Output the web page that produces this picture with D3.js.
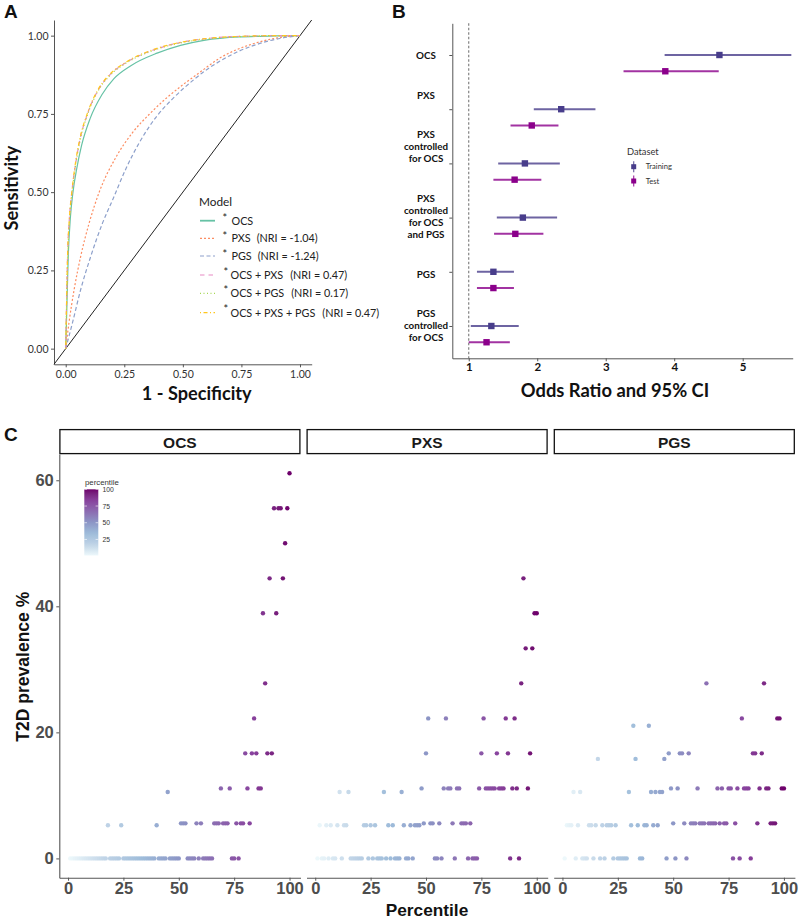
<!DOCTYPE html>
<html><head><meta charset="utf-8">
<script src="https://cdn.jsdelivr.net/npm/d3@7"></script>
<style>body{margin:0;background:#fff}svg{display:block}</style>
</head><body>
<svg id="chart" width="800" height="919"></svg>
<script>
// ================= DATA =================
// Panel A: ROC curves (1 - specificity, sensitivity)
const rocModels = ["OCS", "PXS", "PGS", "OCS + PXS", "OCS + PGS", "OCS + PXS + PGS"];
const rocNri = ["", "(NRI = -1.04)", "(NRI = -1.24)", "(NRI = 0.47)", "(NRI = 0.17)", "(NRI = 0.47)"];
const rocOCS = [[0,0],[0.003,0.08],[0.011,0.3],[0.02,0.42],[0.031,0.5],[0.047,0.575],[0.068,0.65],[0.104,0.735],[0.155,0.812],[0.205,0.862],[0.278,0.904],[0.39,0.944],[0.49,0.969],[0.59,0.985],[0.74,0.996],[0.9,0.999],[1,1]];
const rocPXS = [[0,0],[0.014,0.083],[0.036,0.189],[0.064,0.295],[0.1,0.401],[0.143,0.5],[0.214,0.611],[0.286,0.691],[0.357,0.749],[0.429,0.8],[0.5,0.843],[0.571,0.882],[0.614,0.906],[0.657,0.928],[0.729,0.955],[0.8,0.974],[0.871,0.988],[0.943,0.997],[1,1]];
const rocPGS = [[0,0],[0.029,0.083],[0.064,0.189],[0.107,0.295],[0.157,0.401],[0.2,0.475],[0.257,0.575],[0.314,0.658],[0.386,0.74],[0.457,0.799],[0.543,0.857],[0.586,0.883],[0.657,0.918],[0.729,0.947],[0.8,0.968],[0.871,0.984],[0.943,0.995],[1,1]];
const rocOCSPXS = [[0,0],[0.002,0.08],[0.008,0.3],[0.016,0.42],[0.026,0.5],[0.04,0.58],[0.06,0.665],[0.093,0.75],[0.14,0.828],[0.19,0.876],[0.26,0.915],[0.37,0.953],[0.47,0.975],[0.57,0.988],[0.72,0.997],[0.9,1],[1,1]];
const rocOCSPGS = [[0,0],[0.002,0.08],[0.009,0.3],[0.017,0.42],[0.027,0.5],[0.041,0.58],[0.061,0.664],[0.094,0.749],[0.141,0.827],[0.192,0.875],[0.262,0.914],[0.372,0.952],[0.472,0.974],[0.575,0.987],[0.725,0.996],[0.9,1],[1,1]];
const rocAll = [[0,0],[0.002,0.08],[0.008,0.3],[0.016,0.42],[0.026,0.5],[0.039,0.58],[0.059,0.666],[0.092,0.751],[0.139,0.829],[0.189,0.877],[0.259,0.916],[0.368,0.954],[0.468,0.975],[0.568,0.988],[0.72,0.997],[0.9,1],[1,1]];
const rocTicks = [0, 0.25, 0.5, 0.75, 1];

// Panel B: odds ratios and 95% CI
const orCategories = ["OCS", "PXS", "PXS controlled for OCS", "PXS controlled for OCS and PGS", "PGS", "PGS controlled for OCS"];
const orDatasets = ["Training", "Test"];
const trainOR = [4.66, 2.35, 1.82, 1.79, 1.36, 1.33];
const trainLo = [3.86, 1.95, 1.43, 1.41, 1.12, 1.03];
const trainHi = [5.71, 2.85, 2.33, 2.29, 1.66, 1.73];
const testOR  = [3.87, 1.92, 1.67, 1.68, 1.36, 1.26];
const testLo  = [3.26, 1.61, 1.36, 1.37, 1.12, 1.00];
const testHi  = [4.65, 2.31, 2.06, 2.09, 1.66, 1.60];
const orTicks = [1, 2, 3, 4, 5];

// Panel C: T2D prevalence (%) by percentile; groups of [prevalence, percentiles]
const prevFacets = ["OCS", "PXS", "PGS"];
const prevOCS = [
  [0, [1,2,3,4,5,6,7,8,9,10,11,12,13,14,15,16,17,19,20,21,22,23,25,26,27,28,29,30,31,32,33,34,35,36,37,38,39,41,42,43,44,46,47,48,49,50,54,55,56,57,59,61,62,63,64,65,74,75,77]],
  [5.26, [18,24,40]],
  [5.56, [51,52,53,58,60,66,67,68,70,71,72,76,78,79,82]],
  [10.53, [45]],
  [11.11, [69,73,81,86,87]],
  [16.67, [80,83,85,90,92]],
  [22.22, [84]],
  [27.78, [89]],
  [38.89, [88,94]],
  [44.44, [91,97]],
  [50.00, [98]],
  [55.56, [93,95,96,99]],
  [61.11, [100]]
];
const prevPXS = [
  [0, [1,3,4,6,8,9,12,16,17,18,19,20,21,24,26,28,29,30,32,34,36,37,38,41,42,44,54,55,57,63,69,71,72,73,88,92]],
  [5.26, [2,5,7,10,13,14,22,23,25,27,33,35,40,43,45,46,47]],
  [5.56, [49,52,53,56,62,66,67,68,70]],
  [10.53, [11,15,31,39]],
  [11.11, [48,58,60,61,64,65,74,77,78,79,80,81,83,84,85,89,91,96]],
  [16.67, [50,75,82,87,97]],
  [22.22, [51,59,76,86,90]],
  [27.78, [93]],
  [33.33, [95,98]],
  [38.89, [99,100]],
  [44.44, [94]]
];
const prevPGS = [
  [0, [1,6,9,10,11,14,17,19,23,25,26,27,28,29,35,36,47,51,56,77,80,85]],
  [5.26, [2,3,4,7,12,13,15,18,20,21,22,24,31,34,37,38,41,43]],
  [5.56, [50,55,58,59,60,62,63,64,66,67,68,69,71,73,74,78,88,94,95,96]],
  [10.53, [5,8,30,40,42,44,45]],
  [11.11, [49,52,61,70,72,75,76,79,82,83,84,89,92,93,99,100]],
  [15.79, [16,33,46]],
  [16.67, [48,53,54,57,86,87,90]],
  [21.05, [32,39]],
  [22.22, [81,97,98]],
  [27.78, [65,91]]
];
const prevYTicks = [0, 20, 40, 60];
const prevXTicks = [0, 25, 50, 75, 100];
const legendTicks = [25, 50, 75, 100];
const buPu = ["#edf8fb","#bfd3e6","#9ebcda","#8c96c6","#8c6bb1","#88419d","#6e016b"];

// ================= DRAW =================
const svg = d3.select("#chart");
const FA = "Lato, 'Open Sans', sans-serif";
const FC = "'Liberation Sans', Arial, sans-serif";

function fit(sel, w) {
  const n = sel.node(); const fs = parseFloat(sel.attr("font-size"));
  const cw = n.getComputedTextLength();
  if (cw > 0) sel.attr("font-size", fs * w / cw);
}

// panel letters
[["A",4,18],["B",392,18],["C",4,441]].forEach(([t,x,y]) => {
  svg.append("text").attr("x",x).attr("y",y).text(t)
    .attr("font-family",FC).attr("font-weight","bold").attr("font-size",19).attr("fill","#111");
});

// ---------- Panel A ----------
{
  const g = svg.append("g");
  const ax = d3.scaleLinear().domain([-0.05,1.05]).range([54,311.7]);
  const ay = d3.scaleLinear().domain([-0.05,1.05]).range([364.3,20]);
  const yA = g.append("g").attr("transform","translate(54,0)")
    .call(d3.axisLeft(ay).tickValues(rocTicks).tickFormat(d3.format(".2f")).tickSize(3).tickSizeOuter(0));
  const xA = g.append("g").attr("transform","translate(0,364.3)")
    .call(d3.axisBottom(ax).tickValues(rocTicks).tickFormat(d3.format(".2f")).tickSize(3).tickSizeOuter(0));
  [yA,xA].forEach(a => {
    a.select(".domain").attr("stroke","#555").attr("stroke-width",1);
    a.selectAll(".tick line").attr("stroke","#555");
    a.selectAll(".tick text").attr("font-family",FA).attr("font-size",10.5).attr("fill","#333");
  });
  yA.selectAll(".tick text").attr("x",-5.5);
  xA.selectAll(".tick text").attr("y",6);

  // diagonal reference
  g.append("line").attr("x1",ax(-0.05)).attr("y1",ay(-0.05)).attr("x2",ax(1.05)).attr("y2",ay(1.05))
    .attr("stroke","#222").attr("stroke-width",1);

  const curves = [rocOCS, rocPXS, rocPGS, rocOCSPXS, rocOCSPGS, rocAll];
  const cols = ["#66C2A5","#FC8D62","#8DA0CB","#E78AC3","#A6D854","#FFC61E"];
  const dashes = [null, "2,2", "4,2.5", "4.5,4", "1,2.5", "1,2.5,4,2.5"];
  const line = d3.line().x(d=>ax(d[0])).y(d=>ay(d[1])).curve(d3.curveMonotoneX);
  curves.forEach((c,i) => {
    g.append("path").attr("d",line(c)).attr("fill","none").attr("stroke",cols[i])
      .attr("stroke-width",1.2).attr("stroke-dasharray",dashes[i]);
  });

  // titles
  const xt = g.append("text").attr("x",196.7).attr("y",400).attr("text-anchor","middle")
    .attr("font-family",FA).attr("font-weight","bold").attr("font-size",18).attr("fill","#111").text("1 - Specificity");
  fit(xt,110);
  const yt = g.append("text").attr("transform","translate(18,188) rotate(-90)").attr("text-anchor","middle")
    .attr("font-family",FA).attr("font-weight","bold").attr("font-size",18).attr("fill","#111").text("Sensitivity");
  fit(yt,85);

  // legend
  const lg = g.append("g");
  lg.append("text").attr("x",199).attr("y",205.5).text("Model")
    .attr("font-family",FA).attr("font-size",11.8).attr("fill","#222");
  const rowY = [220.7, 238.3, 256, 275, 293.3, 312.7];
  rocModels.forEach((m,i) => {
    const y = rowY[i];
    lg.append("line").attr("x1",200).attr("x2",215).attr("y1",y).attr("y2",y)
      .attr("stroke",cols[i]).attr("stroke-width",i===0?1.8:1.2).attr("stroke-dasharray",dashes[i]);
    const big = i >= 3;
    const t = lg.append("text").attr("y",y+3.8).attr("font-family",FA).attr("font-size",10.8).attr("fill","#222");
    t.append("tspan").attr("x", big?223.5:222.5).attr("dy", big?-3.3:-2.3).text("*").attr("font-size",11);
    t.append("tspan").attr("x", big?230.5:231.5).attr("dy", big?3.3:2.3).text(m);
    if (rocNri[i]) t.append("tspan").attr("dx", big?7:6).text(rocNri[i]);
  });
}

// ---------- Panel B ----------
{
  const g = svg.append("g");
  const bx = d3.scaleLinear().domain([0.76,5.73]).range([452.3,792.7]);
  const by = d3.scaleLinear().domain([0.404,6.585]).range([358.3,23.3]);
  const nC = orCategories.length;
  const catPos = i => nC - i;
  const trainCol = "#483D8B", testCol = "#8B008B";

  // axes
  const xB = g.append("g").attr("transform","translate(0,358.3)")
    .call(d3.axisBottom(bx).tickValues(orTicks).tickFormat(d3.format("d")).tickSize(3).tickSizeOuter(0));
  xB.select(".domain").attr("stroke","#555");
  xB.selectAll(".tick line").attr("stroke","#555");
  xB.selectAll(".tick text").attr("font-family",FA).attr("font-weight","bold").attr("font-size",11.5).attr("fill","#111").attr("y",5);
  const yB = g.append("g").attr("transform","translate(452.3,0)")
    .call(d3.axisLeft(by).tickValues(orCategories.map((c,i)=>catPos(i))).tickFormat("").tickSize(3).tickSizeOuter(0));
  yB.select(".domain").attr("stroke","#555");
  yB.selectAll(".tick line").attr("stroke","#555");

  // reference line at OR = 1
  g.append("line").attr("x1",bx(1)).attr("x2",bx(1)).attr("y1",23.3).attr("y2",358.3)
    .attr("stroke","#777").attr("stroke-width",1.1).attr("stroke-dasharray","2.5,2");

  // category labels
  const shift = [0.7, -14, -16.5, -1, 3, 0];
  orCategories.forEach((c,i) => {
    const lines = c.replace(" controlled ", "\ncontrolled\n").replace(" and ", "\nand ").split("\n");
    const cy = by(catPos(i)) + shift[i];
    const lh = 12.1;
    const t = g.append("text").attr("text-anchor","middle").attr("font-family",FA)
      .attr("font-weight","bold").attr("font-size",9.8).attr("fill","#111");
    lines.forEach((l,k) => {
      t.append("tspan").attr("x",426).attr("y", cy + (k - (lines.length-1)/2)*lh + 3.4).text(l);
    });
  });

  // point ranges
  const sets = [
    {est: trainOR, lo: trainLo, hi: trainHi, col: trainCol, off: 0},
    {est: testOR, lo: testLo, hi: testHi, col: testCol, off: -0.3}
  ];
  sets.forEach(s => {
    s.est.forEach((v,i) => {
      const y = by(catPos(i) + s.off);
      g.append("line").attr("x1",bx(s.lo[i])).attr("x2",bx(s.hi[i])).attr("y1",y).attr("y2",y)
        .attr("stroke",s.col).attr("stroke-width",2).attr("stroke-opacity",0.8);
      g.append("rect").attr("x",bx(v)-3.2).attr("y",y-3.2).attr("width",6.4).attr("height",6.4).attr("fill",s.col);
    });
  });

  // title
  const t = g.append("text").attr("x",615).attr("y",396.5).attr("text-anchor","middle")
    .attr("font-family",FA).attr("font-weight","bold").attr("font-size",18).attr("fill","#111").text("Odds Ratio and 95% CI");
  fit(t,188.6);

  // legend
  g.append("text").attr("x",627).attr("y",154.5).text("Dataset").attr("font-family",FA).attr("font-size",9.3).attr("fill","#333");
  [[orDatasets[0],trainCol,166.7],[orDatasets[1],testCol,181]].forEach(([n,c,y]) => {
    g.append("line").attr("x1",633.7).attr("x2",633.7).attr("y1",y-5.5).attr("y2",y+5.5).attr("stroke",c).attr("stroke-width",1.2).attr("stroke-opacity",0.8);
    g.append("rect").attr("x",631.2).attr("y",y-2.5).attr("width",5).attr("height",5).attr("fill",c);
    g.append("text").attr("x",645.7).attr("y",y+2.6).text(n).attr("font-family",FA).attr("font-size",7.6).attr("fill","#333");
  });
}

// ---------- Panel C ----------
{
  const g = svg.append("g");
  const color = d3.scaleLinear().domain(buPu.map((c,i)=>1 + i*99/(buPu.length-1))).range(buPu).interpolate(d3.interpolateLab);
  const cy = d3.scaleLinear().domain([-3.06,64.17]).range([877.7,454]);
  const panels = [[59.3,300.5],[306.5,547.7],[553.7,794.9]];
  const facetData = [prevOCS, prevPXS, prevPGS];

  prevFacets.forEach((f,fi) => {
    const [x0,x1] = panels[fi];
    const cx = d3.scaleLinear().domain([-3.95,104.95]).range([x0,x1]);
    // strip
    g.append("rect").attr("x",x0+0.6).attr("y",429.6).attr("width",x1-x0-1.2).attr("height",24)
      .attr("fill","#fff").attr("stroke","#111").attr("stroke-width",1.3);
    g.append("text").attr("x",(x0+x1)/2).attr("y",447.5).attr("text-anchor","middle").text(f)
      .attr("font-family",FC).attr("font-weight","bold").attr("font-size",15.5).attr("fill","#1a1a1a");
    // x axis
    const xa = g.append("g").attr("transform","translate(0,877.7)")
      .call(d3.axisBottom(cx).tickValues(prevXTicks).tickSize(3).tickSizeOuter(0));
    xa.select(".domain").attr("stroke","#555").attr("stroke-width",1.1);
    xa.selectAll(".tick line").attr("stroke","#555");
    xa.selectAll(".tick text").attr("font-family",FC).attr("font-weight","bold").attr("font-size",16.5).attr("fill","#4d4d4d").attr("y",5);
    // points
    const pts = [];
    facetData[fi].forEach(([v, ps]) => ps.forEach(p => pts.push({p, v})));
    g.append("g").selectAll("circle").data(pts).join("circle")
      .attr("cx", d => cx(d.p)).attr("cy", d => cy(d.v)).attr("r", 2.2)
      .attr("fill", d => color(d.p));
  });

  // y axis (first panel)
  const ya = g.append("g").attr("transform","translate(59.3,0)")
    .call(d3.axisLeft(cy).tickValues(prevYTicks).tickSize(3).tickSizeOuter(0));
  ya.select(".domain").attr("stroke","#555").attr("stroke-width",1.1);
  ya.selectAll(".tick line").attr("stroke","#555");
  ya.selectAll(".tick text").attr("font-family",FC).attr("font-weight","bold").attr("font-size",16.5).attr("fill","#4d4d4d").attr("x",-5.5);

  // titles
  const xt = g.append("text").attr("x",427).attr("y",916).attr("text-anchor","middle").text("Percentile")
    .attr("font-family",FC).attr("font-weight","bold").attr("font-size",17).attr("fill","#111");
  fit(xt,82.6);
  const yt = g.append("text").attr("transform","translate(28.5,666.7) rotate(-90)").attr("text-anchor","middle")
    .text("T2D prevalence %").attr("font-family",FC).attr("font-weight","bold").attr("font-size",17).attr("fill","#111");
  fit(yt,150);

  // colour legend
  const lgs = d3.scaleLinear().domain([1,100]).range([555.5,489.3]);
  const defs = svg.append("defs");
  const grad = defs.append("linearGradient").attr("id","bupu").attr("x1",0).attr("x2",0).attr("y1",1).attr("y2",0);
  d3.range(0,1.0001,0.05).forEach(t => grad.append("stop").attr("offset",t).attr("stop-color",color(1+t*99)));
  g.append("rect").attr("x",84.3).attr("y",lgs(100)).attr("width",14).attr("height",lgs(1)-lgs(100)).attr("fill","url(#bupu)");
  legendTicks.forEach(v => {
    g.append("line").attr("x1",84.3).attr("x2",87).attr("y1",lgs(v)).attr("y2",lgs(v)).attr("stroke","#fff").attr("stroke-width",0.6);
    g.append("line").attr("x1",95.6).attr("x2",98.3).attr("y1",lgs(v)).attr("y2",lgs(v)).attr("stroke","#fff").attr("stroke-width",0.6);
    g.append("text").attr("x",102.5).attr("y",lgs(v)+2.5).text(v).attr("font-family",FC).attr("font-size",6.8).attr("fill","#333");
  });
  g.append("text").attr("x",85).attr("y",484.5).text("percentile").attr("font-family",FC).attr("font-size",7.8).attr("fill","#333");
}
</script>
</body></html>
